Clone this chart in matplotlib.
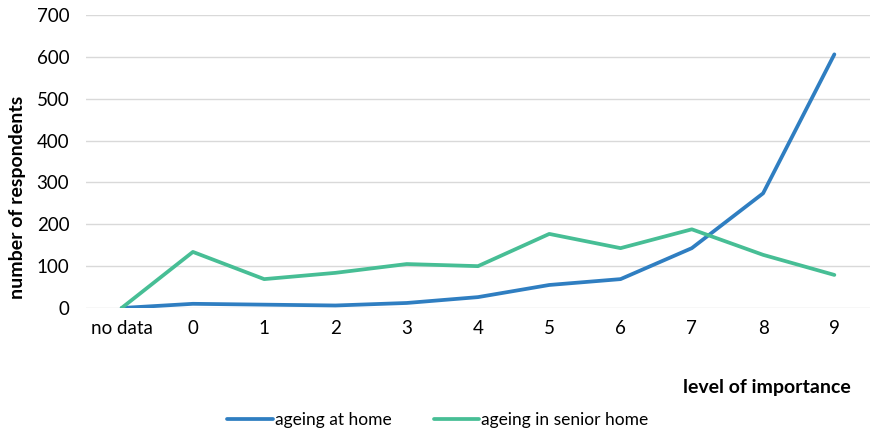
import matplotlib
matplotlib.use("Agg")
import matplotlib.pyplot as plt

plt.rcParams['font.family'] = ['Lato', 'DejaVu Sans']

categories = ["no data", "0", "1", "2", "3", "4", "5", "6", "7", "8", "9"]
at_home = [0, 10, 8, 6, 12, 26, 55, 69, 143, 274, 606]
senior_home = [0, 134, 69, 84, 105, 100, 177, 143, 188, 127, 79]
y_ticks = [0, 100, 200, 300, 400, 500, 600, 700]

blue = "#2F7EC1"
green = "#47BE95"

fig = plt.figure(figsize=(8.73, 4.33), dpi=100)
ax = fig.add_axes([86 / 873, 1 - 308 / 433, (870 - 86) / 873, (308 - 15) / 433])

x = list(range(len(categories)))
ax.plot(x, at_home, color=blue, lw=2.7, solid_capstyle='round', solid_joinstyle='round',
        label="ageing at home", zorder=3)
ax.plot(x, senior_home, color=green, lw=2.7, solid_capstyle='round', solid_joinstyle='round',
        label="ageing in senior home", zorder=3)

ax.set_xlim(-0.5, len(categories) - 0.5)
ax.set_ylim(0, 700)
ax.set_yticks(y_ticks)
ax.set_xticks(x)
ax.set_xticklabels(categories)
ax.grid(axis='y', color='#D9D9D9', lw=1)
ax.set_axisbelow(True)
for s in ax.spines.values():
    s.set_visible(False)
ax.tick_params(length=0, labelsize=13.5, colors='#000000')
ax.tick_params(axis='x', pad=9)
ax.tick_params(axis='y', pad=12)

fig.text(18 / 873, 1 - 197 / 433, "number of respondents", rotation=90, fontsize=14,
         fontweight='bold', ha='center', va='center')
fig.text(851 / 873, 1 - 388 / 433, "level of importance", fontsize=14,
         fontweight='bold', ha='right', va='center')

fig.legend(loc='center', bbox_to_anchor=(438 / 873, 1 - 420 / 433), ncol=2, frameon=False,
           fontsize=12.5, handlelength=2.6, handletextpad=0.15, columnspacing=2.4)

fig.savefig("out.png", dpi=100)
